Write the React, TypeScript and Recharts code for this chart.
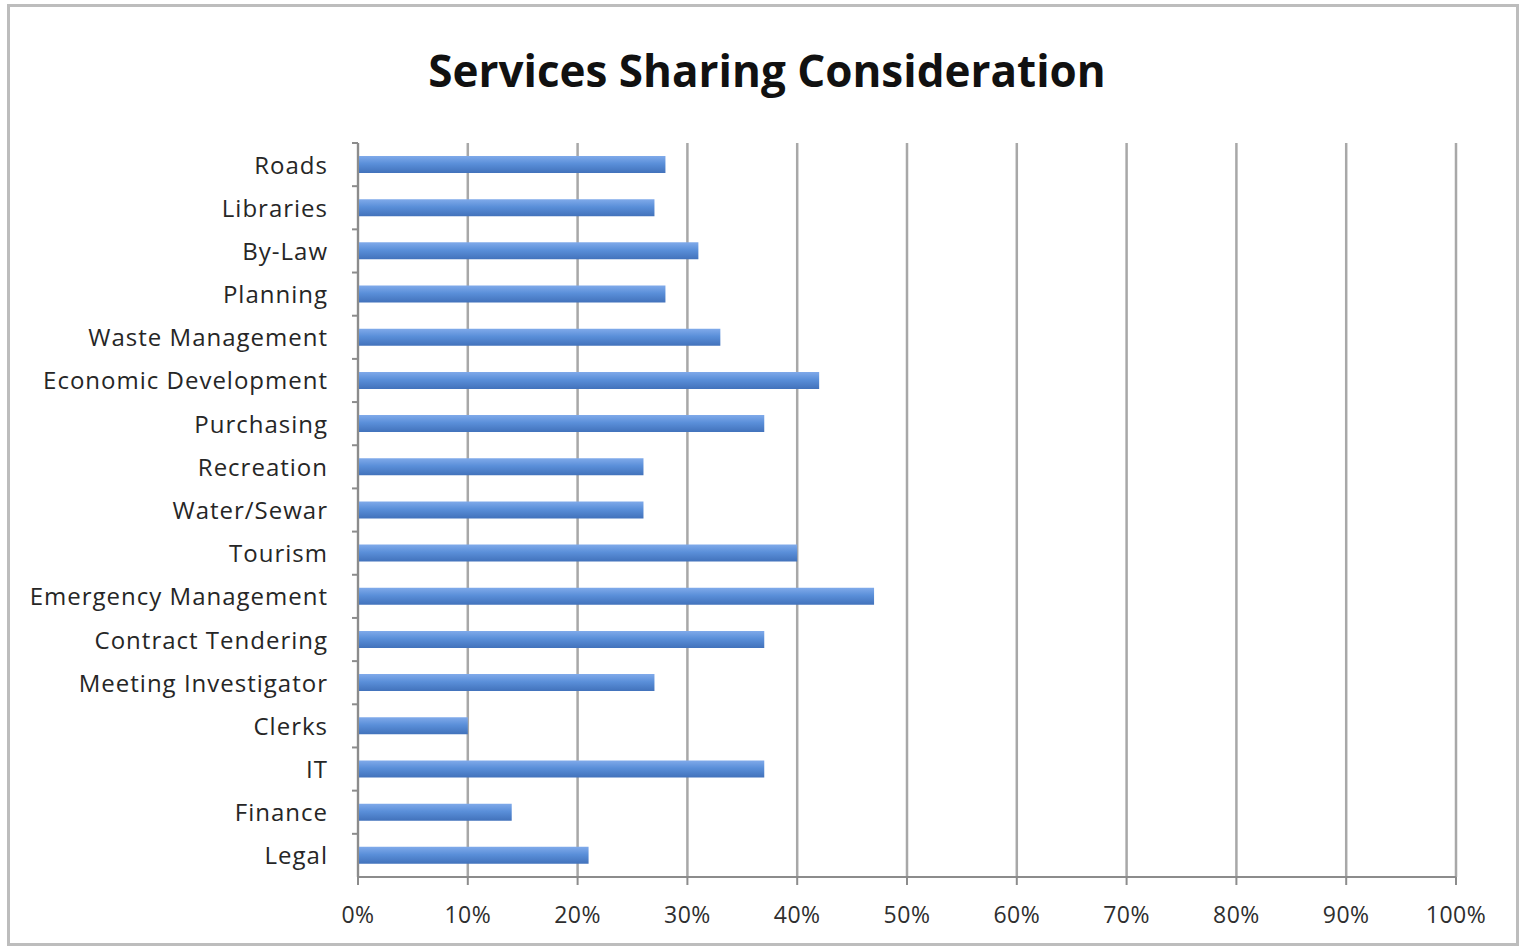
import React from 'react';
import { BarChart, Bar, XAxis, YAxis, CartesianGrid } from 'recharts';

const services = [
  'Roads', 'Libraries', 'By-Law', 'Planning', 'Waste Management', 'Economic Development',
  'Purchasing', 'Recreation', 'Water/Sewar', 'Tourism', 'Emergency Management',
  'Contract Tendering', 'Meeting Investigator', 'Clerks', 'IT', 'Finance', 'Legal',
];
const shares = [0.28, 0.27, 0.31, 0.28, 0.33, 0.42, 0.37, 0.26, 0.26, 0.40, 0.47, 0.37, 0.27, 0.10, 0.37, 0.14, 0.21];
const percentTicks = [0, 0.1, 0.2, 0.3, 0.4, 0.5, 0.6, 0.7, 0.8, 0.9, 1];

const data = services.map((name, i) => ({ name, value: shares[i] }));

const W = 1522;
const H = 950;
const PLOT_TOP = 143;
const PLOT_BOTTOM = 877;
const Y_AXIS_W = 358;
const BAND = (PLOT_BOTTOM - PLOT_TOP) / services.length;
const FONT = '"Open Sans", Lato, sans-serif';

const CategoryTick = (props: any) => {
  const { x, y, payload } = props;
  const axisX = x + 30;
  return (
    <g>
      <line x1={axisX - 6} x2={axisX} y1={y - BAND / 2} y2={y - BAND / 2} stroke="#8c8c8c" strokeWidth={2} />
      <text x={x} y={y} dy={9} textAnchor="end" fontSize={24} letterSpacing={1} fontFamily={FONT} fill="#262626">
        {payload.value}
      </text>
    </g>
  );
};

export default function App() {
  return (
    <div style={{ position: 'absolute', left: 0, top: 0, width: W, height: H, background: '#fff' }}>
      <div
        style={{
          position: 'absolute', left: 7, top: 4, width: W - 10, height: H - 8,
          border: '3px solid #bdbdbd', boxSizing: 'border-box',
        }}
      />
      <div
        style={{
          position: 'absolute', left: 0, top: 40, width: 1534, textAlign: 'center',
          fontFamily: FONT, fontWeight: 700, fontSize: 44, color: '#111',
        }}
      >
        Services Sharing Consideration
      </div>
      <div style={{ position: 'absolute', left: 0, top: 0 }}>
        <BarChart
          width={W}
          height={H}
          data={data}
          layout="vertical"
          margin={{ top: PLOT_TOP, right: W - 1456, bottom: 0, left: 0 }}
          barSize={17}
        >
          <defs>
            <linearGradient id="barFill" x1="0" y1="0" x2="0" y2="1">
              <stop offset="0%" stopColor="#80aaea" />
              <stop offset="45%" stopColor="#5a8fd9" />
              <stop offset="100%" stopColor="#4272bb" />
            </linearGradient>
          </defs>
          <CartesianGrid horizontal={false} stroke="#a8a8a8" strokeWidth={2.5} />
          <XAxis
            type="number"
            domain={[0, 1]}
            ticks={percentTicks}
            tickFormatter={(v: number) => `${Math.round(v * 100)}%`}
            height={H - PLOT_BOTTOM}
            axisLine={{ stroke: '#8c8c8c', strokeWidth: 2 }}
            tickLine={{ stroke: '#8c8c8c', strokeWidth: 2 }}
            tickSize={8}
            tickMargin={22}
            tick={{ fontSize: 23, fontFamily: FONT, fill: '#2e2e2e', letterSpacing: 0.5 }}
          />
          <YAxis
            type="category"
            dataKey="name"
            width={Y_AXIS_W}
            axisLine={{ stroke: '#8c8c8c', strokeWidth: 2 }}
            tickLine={false}
            tickSize={6}
            tickMargin={24}
            interval={0}
            tick={<CategoryTick />}
          />
          <Bar dataKey="value" fill="url(#barFill)" isAnimationActive={false} />
        </BarChart>
      </div>
    </div>
  );
}
